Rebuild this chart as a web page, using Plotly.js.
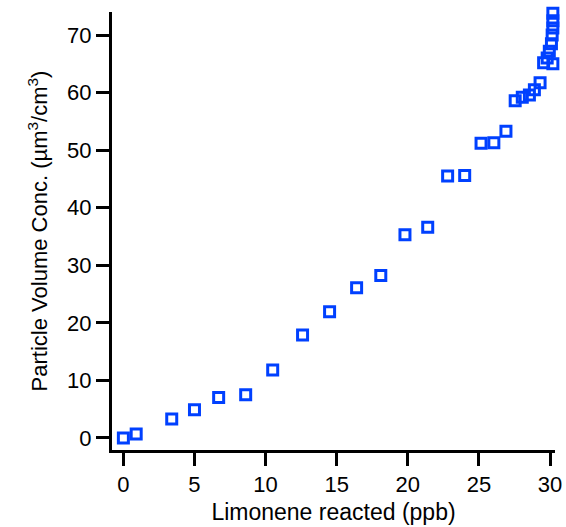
<!DOCTYPE html>
<html>
<head>
<meta charset="utf-8">
<script src="https://cdn.plot.ly/plotly-3.0.1.min.js"></script>
<style>html,body{margin:0;padding:0;background:#fff;}#chart{width:566px;height:527px;}</style>
</head>
<body>
<div id="chart"></div>
<script>
const limoneneReacted = [0, 0.9, 3.4, 5.0, 6.7, 8.6, 10.5, 12.6, 14.5, 16.4, 18.1, 19.8, 21.4, 22.8, 24.0, 25.15, 26.05, 26.9,
  27.55, 28.05, 28.55, 28.9, 29.3, 29.55, 29.8, 29.95, 30.1, 30.15, 30.2, 30.2, 30.2, 30.2];
const volumeConc = [0, 0.7, 3.3, 4.9, 7.0, 7.5, 11.8, 17.9, 21.9, 26.1, 28.2, 35.3, 36.6, 45.5, 45.6, 51.2, 51.3, 53.3,
  58.6, 59.2, 59.6, 60.5, 61.7, 65.2, 66.0, 67.2, 68.5, 70.0, 71.2, 72.5, 73.8, 65.0];
const xTicks = [0, 5, 10, 15, 20, 25, 30];
const yTicks = [0, 10, 20, 30, 40, 50, 60, 70];

const trace = {
  x: limoneneReacted,
  y: volumeConc,
  mode: 'markers',
  type: 'scatter',
  marker: {symbol: 'square-open', size: 10, color: 'rgb(0,64,255)', line: {width: 3, color: 'rgb(0,64,255)'}},
  cliponaxis: false,
  hoverinfo: 'skip'
};

const fontFam = 'Liberation Sans, Arial, Helvetica, sans-serif';
const layout = {
  width: 566, height: 527,
  margin: {l: 112, r: 11, t: 12, b: 77},
  paper_bgcolor: '#fff', plot_bgcolor: '#fff',
  showlegend: false,
  font: {family: fontFam, size: 22, color: '#000'},
  xaxis: {
    range: [-0.8, 30.35],
    tickvals: xTicks,
    ticktext: xTicks.map(String),
    showgrid: false, zeroline: false,
    showline: true, linewidth: 3, linecolor: '#000',
    ticks: 'outside', ticklen: 13, tickwidth: 3, tickcolor: '#000',
    tickfont: {family: fontFam, size: 22, color: '#000'},
    title: {text: 'Limonene reacted (ppb)', font: {family: fontFam, size: 23, color: '#000'}, standoff: 8}
  },
  yaxis: {
    range: [-2.1, 74],
    tickvals: yTicks,
    ticktext: yTicks.map(String),
    showgrid: false, zeroline: false,
    showline: true, linewidth: 3, linecolor: '#000',
    ticks: 'outside', ticklen: 13, tickwidth: 3, tickcolor: '#000',
    tickfont: {family: fontFam, size: 22, color: '#000'},
    title: {text: 'Particle Volume Conc. (µm<sup>3</sup>/cm<sup>3</sup>)', font: {family: fontFam, size: 22, color: '#000'}, standoff: 14}
  }
};

Plotly.newPlot('chart', [trace], layout, {displayModeBar: false, staticPlot: true});
</script>
</body>
</html>
